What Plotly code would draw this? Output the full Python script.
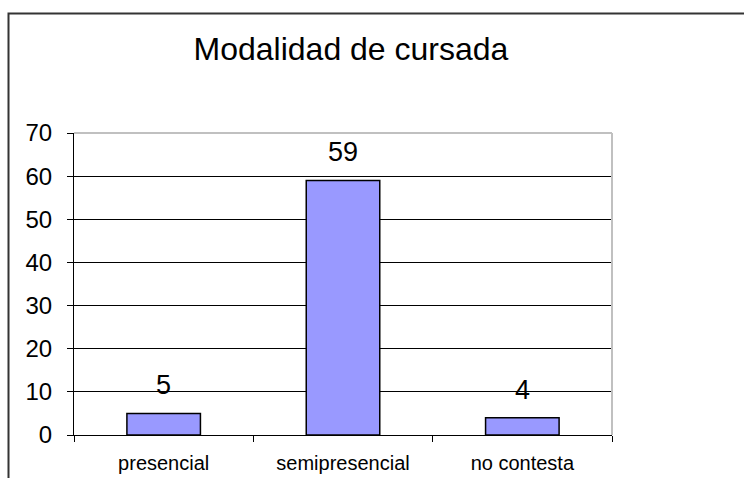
import plotly.graph_objects as go

categories = ["presencial", "semipresencial", "no contesta"]
values = [5, 59, 4]
y_ticks = [0, 10, 20, 30, 40, 50, 60, 70]
title_text = "Modalidad de cursada"

W, H = 744, 478
# plot area in pixels: x 74..612, y 133..435
L, T = 74, 133
R = W - 612
B = H - 435
pw = W - L - R
ph = H - T - B

def px_x(x):  # pixel -> paper
    return (x - L) / pw

def px_y(y):
    return (H - B - y) / ph

FONT = "Arial, Liberation Sans, sans-serif"

fig = go.Figure()
fig.add_trace(go.Bar(
    x=categories, y=values,
    marker=dict(color="#9999FF", line=dict(color="black", width=1.5)),
    hoverinfo="skip",
))

for c, v in zip(categories, values):
    fig.add_annotation(x=c, y=v, text=str(v), showarrow=False,
                       yanchor="bottom", yshift=11,
                       font=dict(family=FONT, size=27, color="black"))

shapes = [
    dict(type="rect", xref="paper", yref="paper",
         x0=px_x(8.5), x1=px_x(800), y0=px_y(13.5), y1=px_y(540),
         line=dict(color="#333333", width=2), layer="below"),
    dict(type="line", xref="paper", yref="paper", x0=0, x1=1, y0=1, y1=1,
         line=dict(color="#c0c0c0", width=2)),
    dict(type="line", xref="paper", yref="paper", x0=1, x1=1, y0=0, y1=1,
         line=dict(color="#c0c0c0", width=2)),
]

fig.update_layout(
    width=W, height=H,
    margin=dict(l=L, r=R, t=T, b=B, pad=0, autoexpand=False),
    paper_bgcolor="white", plot_bgcolor="white",
    showlegend=False,
    bargap=0.59,
    font=dict(family=FONT, color="black"),
    title=dict(text=title_text, x=383 / W, y=1 - 49 / H,
               xanchor="center", yanchor="middle", xref="paper", yref="container",
               font=dict(family=FONT, size=32, color="black")),
    shapes=shapes,
    xaxis=dict(type="category", showline=True, linecolor="black", linewidth=1,
               ticks="outside", ticklen=6, tickcolor="black", tickson="boundaries",
               showgrid=False, tickfont=dict(family=FONT, size=20, color="black"),
               ticklabelstandoff=10, automargin=False, fixedrange=True),
    yaxis=dict(range=[0, 70], tickvals=y_ticks, showline=True, linecolor="black",
               linewidth=1, ticks="outside", ticklen=6, tickcolor="black",
               showgrid=True, gridcolor="black", gridwidth=1, zeroline=False,
               tickfont=dict(family=FONT, size=24, color="black"),
               ticklabelstandoff=10, automargin=False, fixedrange=True),
)

fig.write_html("out.html", config={"displayModeBar": False},
               post_script="document.body.style.margin='0';document.body.style.overflow='hidden';")
